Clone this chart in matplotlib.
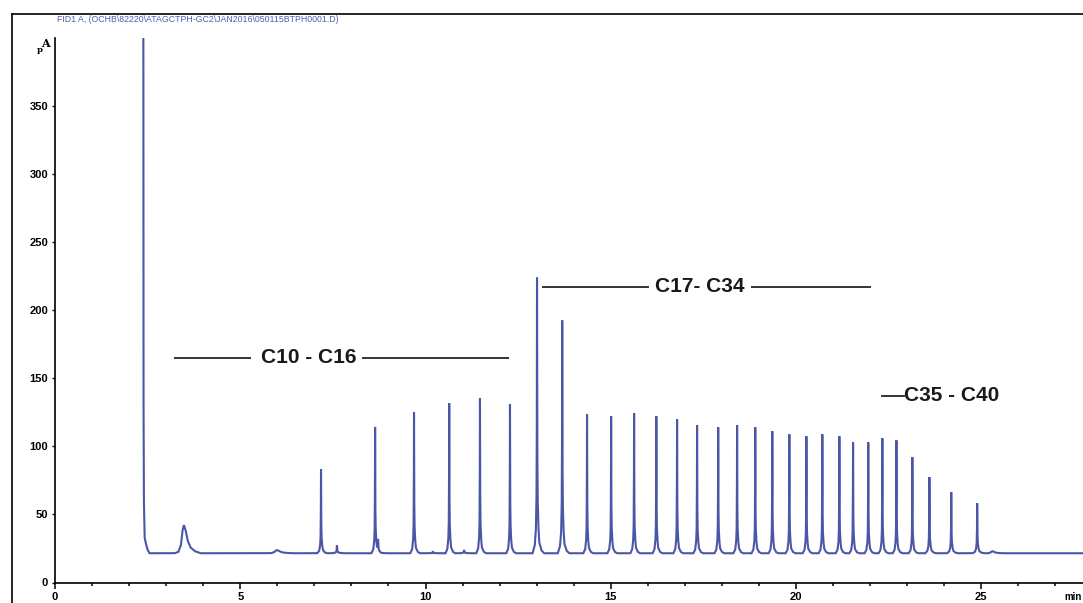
import numpy as np
import matplotlib.pyplot as plt
from matplotlib.lines import Line2D
from matplotlib.ticker import MultipleLocator

plt.rcParams['font.family'] = ['Liberation Sans', 'DejaVu Sans']

# picco del solvente (parte iniziale della traccia), min / pA
solvente_t = [2.38, 2.385, 2.39, 2.40, 2.42, 2.45, 2.50, 2.55]
solvente_v = [1500, 400, 131, 60, 33, 29, 24, 21.5]

tempi_picchi = [3.48, 5.99, 7.18, 7.61, 8.64, 8.72, 9.69, 10.20, 10.64, 11.04,
                11.47, 12.28, 13.01, 13.69, 14.36, 15.01, 15.63, 16.23, 16.79,
                17.33, 17.90, 18.41, 18.90, 19.36, 19.82, 20.28, 20.71, 21.17,
                21.54, 21.95, 22.33, 22.71, 23.14, 23.60, 24.19, 24.89, 25.30]
altezze_picchi = [42.2, 23.8, 83.3, 27.5, 114.1, 30.0, 125.1, 23.0, 131.7, 24.0,
                  135.4, 131.0, 224.1, 192.6, 123.6, 122.2, 124.4, 122.2, 120.0,
                  115.6, 114.1, 115.6, 114.1, 111.2, 108.9, 107.5, 108.9, 107.5,
                  103.1, 103.1, 106.0, 104.5, 92.1, 77.4, 66.4, 58.3, 23.0]
# allargamento relativo di ciascun picco (1 = picco stretto, >=2 = picco largo)
larghezze_picchi = [3.0, 3.0, 1.0, 1.5, 1.0, 1.5, 1.0, 1.5, 1.0, 1.5,
                    1.0, 1.0, 1.2, 1.2, 1.0, 1.0, 1.0, 1.0, 1.0,
                    1.0, 1.0, 1.0, 1.0, 1.0, 1.0, 1.0, 1.0, 1.0,
                    1.0, 1.0, 1.0, 1.0, 1.0, 1.1, 1.1, 1.2, 2.0]
linea_base = 21.5
fine_corsa = 28.0

# gruppi di idrocarburi
gruppi = ['C10 - C16', 'C17- C34', 'C35 - C40']


def forma_picco(t, t0, h, s):
    '''profilo del picco ottenuto per interpolazione lineare di una sagoma'''
    if s >= 2:
        # picco largo e arrotondato
        dt = np.array([-0.25, -0.15, -0.08, -0.04, 0.0, 0.05, 0.10, 0.18, 0.30, 0.45]) * s / 3
        fr = np.array([0.0, 0.05, 0.3, 0.8, 1.0, 0.8, 0.45, 0.2, 0.07, 0.0])
    else:
        # picco a spillo con piede e coda
        dt = np.array([-0.10, -0.05, -0.025, -0.012, -0.005, 0.0, 0.006,
                       0.014, 0.03, 0.05, 0.10, 0.16]) * s
        fr = np.array([0.0, 0.03, 0.09, 0.2, 0.45, 1.0, 0.4, 0.2, 0.1, 0.04, 0.01, 0.0])
    return np.interp(t, t0 + dt, (h - linea_base) * fr, left=0, right=0)


t = np.arange(solvente_t[-1], fine_corsa, 0.002)
v = np.full_like(t, linea_base)
for t0, h, s in zip(tempi_picchi, altezze_picchi, larghezze_picchi):
    v += forma_picco(t, t0, h, s)

tt = np.concatenate([solvente_t[:-1], t])
vv = np.concatenate([solvente_v[:-1], v])

fig = plt.figure(figsize=(10.83, 6.03), dpi=100)
ax = fig.add_axes([55/1083, 20.5/603, 1030/1083, 544.2/603])

ax.plot(tt, vv, color='#4a56a6', lw=1.5, solid_joinstyle='miter')
ax.set_xlim(0, 27.8)
ax.set_ylim(0, 400)

for lato in ['top', 'right']:
    ax.spines[lato].set_visible(False)
for lato in ['left', 'bottom']:
    ax.spines[lato].set_linewidth(1.2)

ax.set_yticks(np.arange(0, 351, 50))
ax.xaxis.set_major_locator(MultipleLocator(5))
ax.xaxis.set_minor_locator(MultipleLocator(1))
ax.tick_params(axis='x', which='major', length=4, width=1.1, pad=3)
ax.tick_params(axis='x', which='minor', length=2.5, width=1.1)
ax.tick_params(axis='y', length=2, width=1.0, pad=3)
for lab in ax.get_xticklabels() + ax.get_yticklabels():
    lab.set_fontsize(8)
    lab.set_fontweight('bold')

# unita' di misura in cima all'asse y
ax.text(-0.012, 0.985, 'p', transform=ax.transAxes, fontsize=6, family='serif',
        fontweight='bold', ha='right', va='top')
ax.text(-0.005, 1.0, 'A', transform=ax.transAxes, fontsize=8, family='serif',
        fontweight='bold', ha='right', va='top')

# etichette dei gruppi con tratti
col_testo = '#1a1a1a'
ax.text(6.86, 165.5, gruppi[0], fontsize=15, fontweight='bold', color=col_testo,
        ha='center', va='center')
ax.plot([3.24, 5.26], [164.8, 164.8], color='#333333', lw=1.4)
ax.plot([8.32, 12.23], [164.8, 164.8], color='#333333', lw=1.4)
ax.text(17.41, 217.4, gruppi[1], fontsize=15, fontweight='bold', color=col_testo,
        ha='center', va='center')
ax.plot([13.17, 16.01], [217.4, 217.4], color='#333333', lw=1.4)
ax.plot([18.81, 22.0], [217.4, 217.4], color='#333333', lw=1.4)
ax.text(22.92, 137.5, gruppi[2], fontsize=15, fontweight='bold', color=col_testo,
        ha='left', va='center')
ax.plot([22.32, 22.92], [137.0, 137.0], color='#333333', lw=1.4)

# intestazione del segnale
fig.text(57/1083, 1 - 20/603, r'FID1 A, (OCHB\82220\ATAGCTPH-GC2\JAN2016\050115BTPH0001.D)',
         fontsize=6.3, color='#4f5db5', ha='left', va='center')
fig.text(1082/1083, 1 - 597/603, 'min', fontsize=7, fontweight='bold', ha='right', va='center')

# cornice esterna (solo bordo sinistro e superiore visibili)
fig.add_artist(Line2D([12/1083, 12/1083], [0, 1 - 14/603], color='black', lw=1.2))
fig.add_artist(Line2D([12/1083, 1], [1 - 14/603, 1 - 14/603], color='black', lw=1.2))

fig.savefig('out.png', dpi=100)
